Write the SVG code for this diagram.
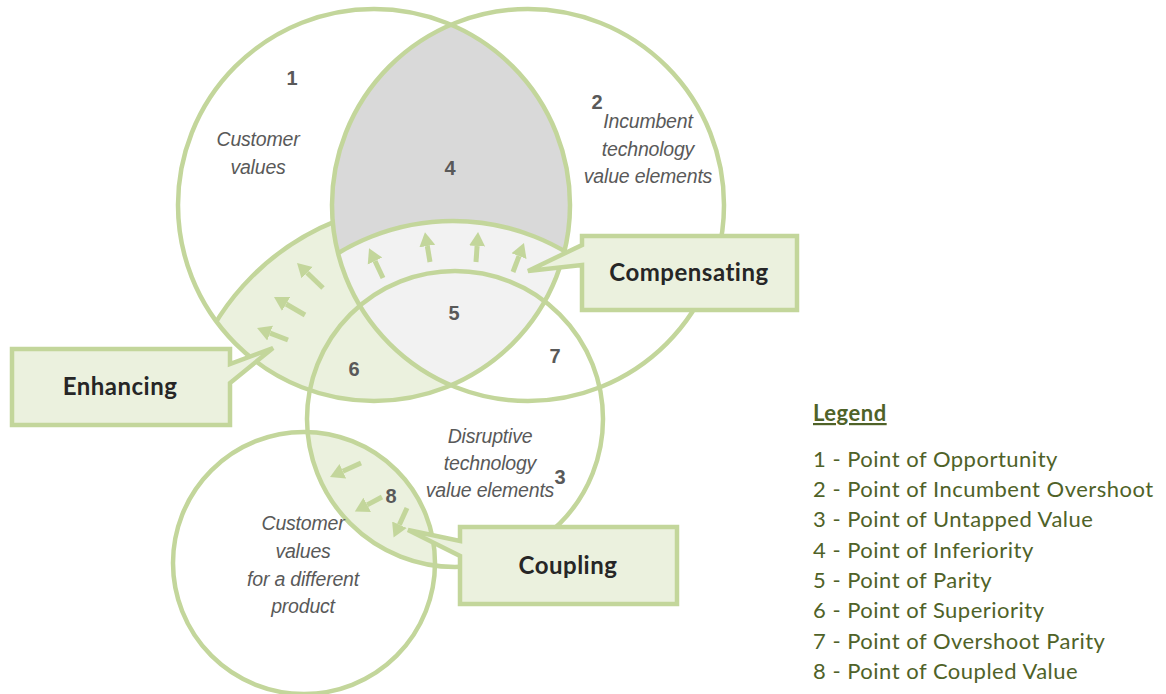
<svg xmlns="http://www.w3.org/2000/svg" width="1166" height="694" viewBox="0 0 1166 694">
<style>
.ring{fill:none;stroke:#c3d69b;stroke-width:4.5}
.arr{stroke:#c3d69b;stroke-width:5;fill:none;marker-end:url(#ah)}
.box{fill:#ebf1de;stroke:#c3d69b;stroke-width:4.5;stroke-linejoin:miter}
.num{font-family:"Liberation Sans",Arial,sans-serif;font-weight:bold;font-size:20px;fill:#595959;text-anchor:middle}
.lab{font-family:"Liberation Sans",Arial,sans-serif;font-style:italic;font-size:19.5px;fill:#595959;text-anchor:middle;letter-spacing:-0.2px}
.call{font-family:Lato,"Open Sans",sans-serif;font-weight:bold;font-size:24px;fill:#262626;text-anchor:middle;letter-spacing:0.5px}
.leg{font-family:Lato,"Open Sans",sans-serif;font-size:22px;fill:#4f6228;letter-spacing:0.5px}
</style>
<defs>
<clipPath id="cA"><circle cx="374" cy="205" r="196"/></clipPath>
<clipPath id="cB"><circle cx="528" cy="205" r="196"/></clipPath>
<clipPath id="cX"><path clip-rule="evenodd" d="M178 205 a196 196 0 1 0 392 0 a196 196 0 1 0 -392 0 Z M332 205 a196 196 0 1 0 392 0 a196 196 0 1 0 -392 0 Z"/></clipPath>
<clipPath id="cD"><circle cx="304" cy="563" r="131"/></clipPath>
<marker id="ah" markerUnits="userSpaceOnUse" markerWidth="16" markerHeight="18" viewBox="0 -9 16 18" refX="0" refY="0" orient="auto">
<path d="M0,-8 L14,0 L0,8 z" fill="#c3d69b"/>
</marker>
</defs>
<rect width="1166" height="694" fill="#ffffff"/>
<g id="fills">
<g clip-path="url(#cA)">
<circle cx="429" cy="453" r="250" fill="#ebf1de"/>
<g clip-path="url(#cB)">
<rect x="0" y="0" width="1166" height="694" fill="#d9d9d9"/>
<circle cx="453" cy="442" r="221" fill="#f2f2f2"/>
</g>
</g>
<g clip-path="url(#cD)">
<circle cx="455" cy="419" r="148" fill="#ebf1de"/>
</g>
</g>
<g id="circles">
<g clip-path="url(#cA)">
<g clip-path="url(#cX)">
<circle id="arc-enhancing" class="ring" cx="429" cy="453" r="250"/>
</g>
<g clip-path="url(#cB)">
<circle id="arc-compensating" class="ring" cx="453" cy="442" r="221"/>
</g>
</g>
<circle id="circle-customer" class="ring" cx="374" cy="205" r="196"/>
<circle id="circle-incumbent" class="ring" cx="528" cy="205" r="196"/>
<circle id="circle-disruptive" class="ring" cx="455" cy="419" r="148"/>
<circle id="circle-different" class="ring" cx="304" cy="563" r="131"/>
</g>
<g id="connectors">
<line class="arr" x1="383" y1="278" x2="375" y2="261"/>
<line class="arr" x1="430" y1="262" x2="427.3" y2="246"/>
<line class="arr" x1="476" y1="262" x2="477.1" y2="246"/>
<line class="arr" x1="513" y1="272" x2="519" y2="256.1"/>
<line class="arr" x1="323" y1="288" x2="307.1" y2="272.7"/>
<line class="arr" x1="305" y1="315" x2="286.1" y2="304"/>
<line class="arr" x1="288" y1="340" x2="270.1" y2="333.1"/>
<line class="arr" x1="361" y1="463" x2="342.8" y2="471.2"/>
<line class="arr" x1="382" y1="497" x2="367.2" y2="504.9"/>
<line class="arr" x1="407" y1="508" x2="399.4" y2="524.7"/>
</g>
<g id="labels">
<text class="num" x="292" y="85">1</text>
<text class="num" x="597" y="109">2</text>
<text class="num" x="560" y="484">3</text>
<text class="num" x="450" y="175">4</text>
<text class="num" x="454" y="320">5</text>
<text class="num" x="354" y="376">6</text>
<text class="num" x="555" y="363">7</text>
<text class="num" x="391" y="503">8</text>
<text class="lab" x="258" y="146">Customer</text>
<text class="lab" x="258" y="174">values</text>
<text class="lab" x="648" y="128">Incumbent</text>
<text class="lab" x="648" y="156">technology</text>
<text class="lab" x="648" y="183">value elements</text>
<text class="lab" x="490" y="443">Disruptive</text>
<text class="lab" x="490" y="470">technology</text>
<text class="lab" x="490" y="497">value elements</text>
<text class="lab" x="303" y="530">Customer</text>
<text class="lab" x="303" y="558">values</text>
<text class="lab" x="303" y="586">for a different</text>
<text class="lab" x="303" y="613">product</text>
</g>
<g id="node-compensating">
<path class="box" d="M582 236 H797 V310 H582 V265 L528 271 L582 245 Z"/>
<text class="call" x="689" y="281">Compensating</text>
</g>
<g id="node-enhancing">
<path class="box" d="M12 349 H230 V364 L273 348 L230 383 V425 H12 Z"/>
<text class="call" x="120" y="395">Enhancing</text>
</g>
<g id="node-coupling">
<path class="box" d="M460 527 H677 V604 H460 V556 L408 530 L460 541 Z"/>
<text class="call" x="568" y="574">Coupling</text>
</g>
<g id="legend">
<text class="leg" x="813" y="421" font-weight="bold" text-decoration="underline" letter-spacing="0">Legend</text>
<text class="leg" x="813" y="467">1 - Point of Opportunity</text>
<text class="leg" x="813" y="497">2 - Point of Incumbent Overshoot</text>
<text class="leg" x="813" y="527">3 - Point of Untapped Value</text>
<text class="leg" x="813" y="558">4 - Point of Inferiority</text>
<text class="leg" x="813" y="588">5 - Point of Parity</text>
<text class="leg" x="813" y="618">6 - Point of Superiority</text>
<text class="leg" x="813" y="649">7 - Point of Overshoot Parity</text>
<text class="leg" x="813" y="679">8 - Point of Coupled Value</text>
</g>
</svg>
